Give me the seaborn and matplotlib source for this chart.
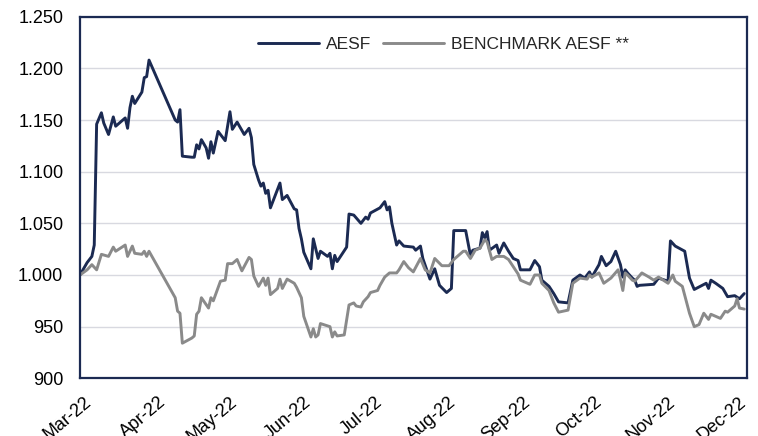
import matplotlib
matplotlib.use("Agg")
import matplotlib.pyplot as plt
import matplotlib.dates as mdates
import matplotlib.transforms as mtransforms
from matplotlib.ticker import FuncFormatter
import pandas as pd
import seaborn as sns

# values (base 1.000 = 1 Mar 2022)
aesf_dates = [
    "2022-03-01", "2022-03-04", "2022-03-06", "2022-03-07", "2022-03-08", "2022-03-10",
    "2022-03-11", "2022-03-13", "2022-03-15", "2022-03-16", "2022-03-20", "2022-03-21",
    "2022-03-22", "2022-03-23", "2022-03-24", "2022-03-27", "2022-03-28", "2022-03-29",
    "2022-03-30", "2022-04-10", "2022-04-11", "2022-04-12", "2022-04-13", "2022-04-17",
    "2022-04-18", "2022-04-19", "2022-04-20", "2022-04-21", "2022-04-23", "2022-04-24",
    "2022-04-25", "2022-04-26", "2022-04-28", "2022-05-01", "2022-05-03", "2022-05-04",
    "2022-05-06", "2022-05-09", "2022-05-11", "2022-05-12", "2022-05-13", "2022-05-15",
    "2022-05-16", "2022-05-17", "2022-05-18", "2022-05-19", "2022-05-20", "2022-05-24",
    "2022-05-25", "2022-05-27", "2022-05-30", "2022-05-31", "2022-06-01", "2022-06-02",
    "2022-06-03", "2022-06-06", "2022-06-07", "2022-06-09", "2022-06-10", "2022-06-13",
    "2022-06-14", "2022-06-15", "2022-06-16", "2022-06-17", "2022-06-21", "2022-06-22",
    "2022-06-24", "2022-06-27", "2022-06-29", "2022-06-30", "2022-07-01", "2022-07-05",
    "2022-07-07", "2022-07-08", "2022-07-09", "2022-07-10", "2022-07-12", "2022-07-13",
    "2022-07-15", "2022-07-19", "2022-07-20", "2022-07-22", "2022-07-23", "2022-07-26",
    "2022-07-28", "2022-07-30", "2022-08-02", "2022-08-04", "2022-08-05", "2022-08-10",
    "2022-08-12", "2022-08-13", "2022-08-16", "2022-08-17", "2022-08-18", "2022-08-19",
    "2022-08-20", "2022-08-23", "2022-08-24", "2022-08-26", "2022-08-28", "2022-08-30",
    "2022-09-01", "2022-09-02", "2022-09-06", "2022-09-08", "2022-09-10", "2022-09-11",
    "2022-09-14", "2022-09-16", "2022-09-18", "2022-09-22", "2022-09-24", "2022-09-27",
    "2022-09-29", "2022-10-01", "2022-10-02", "2022-10-05", "2022-10-06", "2022-10-08",
    "2022-10-10", "2022-10-12", "2022-10-14", "2022-10-15", "2022-10-16", "2022-10-17",
    "2022-10-19", "2022-10-20", "2022-10-21", "2022-10-22", "2022-10-28", "2022-10-30",
    "2022-11-03", "2022-11-04", "2022-11-06", "2022-11-10", "2022-11-12", "2022-11-14",
    "2022-11-19", "2022-11-20", "2022-11-21", "2022-11-23", "2022-11-26", "2022-11-28",
    "2022-12-01", "2022-12-03", "2022-12-05",
]
aesf_values = [
    1000, 1012, 1018, 1029, 1146, 1157,
    1147, 1136, 1153, 1144, 1152, 1142,
    1162, 1173, 1166, 1177, 1191, 1192,
    1208, 1150, 1148, 1160, 1115, 1114,
    1114, 1126, 1122, 1131, 1123, 1113,
    1129, 1118, 1139, 1130, 1158, 1141,
    1148, 1136, 1142, 1133, 1107, 1092,
    1086, 1089, 1079, 1082, 1065, 1089,
    1073, 1077, 1064, 1063, 1045, 1035,
    1022, 1006, 1035, 1016, 1023, 1018,
    1021, 1006, 1019, 1013, 1027, 1059,
    1058, 1050, 1056, 1054, 1060, 1065,
    1071, 1063, 1066, 1050, 1029, 1033,
    1028, 1027, 1024, 1028, 1016, 996,
    1006, 990, 983, 987, 1043, 1043,
    1019, 1024, 1026, 1041, 1036, 1042,
    1024, 1029, 1021, 1031, 1023, 1016,
    1014, 1005, 1005, 1014, 1008, 995,
    989, 982, 974, 973, 995, 1000,
    997, 1003, 998, 1010, 1018, 1009,
    1013, 1023, 1010, 998, 1005, 1002,
    997, 995, 989, 990, 991, 997,
    994, 1033, 1028, 1023, 997, 986,
    992, 987, 995, 992, 987, 979,
    980, 977, 982,
]

bench_dates = [
    "2022-03-01", "2022-03-04", "2022-03-06", "2022-03-08", "2022-03-10", "2022-03-13",
    "2022-03-15", "2022-03-16", "2022-03-20", "2022-03-21", "2022-03-23", "2022-03-24",
    "2022-03-27", "2022-03-28", "2022-03-29", "2022-03-30", "2022-04-10", "2022-04-11",
    "2022-04-12", "2022-04-13", "2022-04-17", "2022-04-18", "2022-04-19", "2022-04-20",
    "2022-04-21", "2022-04-24", "2022-04-25", "2022-04-26", "2022-04-29", "2022-05-01",
    "2022-05-02", "2022-05-04", "2022-05-06", "2022-05-08", "2022-05-11", "2022-05-12",
    "2022-05-13", "2022-05-15", "2022-05-17", "2022-05-18", "2022-05-19", "2022-05-20",
    "2022-05-23", "2022-05-24", "2022-05-25", "2022-05-27", "2022-05-30", "2022-05-31",
    "2022-06-02", "2022-06-03", "2022-06-06", "2022-06-07", "2022-06-08", "2022-06-09",
    "2022-06-10", "2022-06-14", "2022-06-15", "2022-06-16", "2022-06-17", "2022-06-20",
    "2022-06-22", "2022-06-24", "2022-06-25", "2022-06-27", "2022-06-28", "2022-06-30",
    "2022-07-01", "2022-07-04", "2022-07-05", "2022-07-07", "2022-07-09", "2022-07-12",
    "2022-07-13", "2022-07-15", "2022-07-17", "2022-07-19", "2022-07-22", "2022-07-24",
    "2022-07-26", "2022-07-28", "2022-07-31", "2022-08-03", "2022-08-05", "2022-08-09",
    "2022-08-10", "2022-08-12", "2022-08-14", "2022-08-16", "2022-08-18", "2022-08-19",
    "2022-08-21", "2022-08-23", "2022-08-26", "2022-08-28", "2022-08-30", "2022-09-01",
    "2022-09-02", "2022-09-06", "2022-09-08", "2022-09-10", "2022-09-11", "2022-09-14",
    "2022-09-16", "2022-09-18", "2022-09-22", "2022-09-24", "2022-09-27", "2022-09-30",
    "2022-10-01", "2022-10-02", "2022-10-05", "2022-10-07", "2022-10-10", "2022-10-13",
    "2022-10-14", "2022-10-15", "2022-10-16", "2022-10-17", "2022-10-19", "2022-10-20",
    "2022-10-23", "2022-10-26", "2022-10-28", "2022-10-30", "2022-11-03", "2022-11-05",
    "2022-11-06", "2022-11-09", "2022-11-12", "2022-11-14", "2022-11-16", "2022-11-18",
    "2022-11-20", "2022-11-21", "2022-11-25", "2022-11-27", "2022-11-28", "2022-12-01",
    "2022-12-02", "2022-12-03", "2022-12-05",
]
bench_values = [
    1000, 1005, 1010, 1005, 1020, 1018,
    1027, 1023, 1029, 1018, 1028, 1021,
    1020, 1023, 1018, 1023, 978, 965,
    963, 934, 939, 941, 962, 965,
    978, 968, 978, 975, 994, 995,
    1011, 1011, 1015, 1004, 1017, 1015,
    999, 989, 997, 990, 997, 981,
    987, 996, 987, 996, 992, 988,
    978, 960, 940, 948, 940, 942,
    953, 950, 940, 945, 941, 942,
    971, 973, 970, 969, 974, 979,
    983, 985, 990, 998, 1002, 1002,
    1005, 1013, 1007, 1003, 1016, 1005,
    1002, 1016, 1009, 1009, 1015, 1023,
    1023, 1016, 1024, 1026, 1034, 1032,
    1015, 1018, 1018, 1015, 1008, 1001,
    995, 991, 1000, 1000, 992, 985,
    973, 964, 966, 992, 997, 996,
    1000, 998, 1002, 992, 997, 1005,
    996, 985, 1002, 1000, 995, 994,
    1002, 998, 995, 998, 992, 1000,
    994, 989, 963, 950, 952, 963,
    957, 962, 958, 965, 964, 970,
    977, 968, 967,
]

series_names = ["AESF", "BENCHMARK AESF **"]
series_colors = ["#1B2A52", "#8A8A8A"]
y_ticks = [900, 950, 1000, 1050, 1100, 1150, 1200, 1250]

df = pd.concat([
    pd.DataFrame({"date": pd.to_datetime(aesf_dates), "value": aesf_values, "series": series_names[0]}),
    pd.DataFrame({"date": pd.to_datetime(bench_dates), "value": bench_values, "series": series_names[1]}),
])

sns.set_theme(style="white")
plt.rcParams["font.family"] = ["Liberation Sans", "DejaVu Sans"]

fig = plt.figure(figsize=(7.58, 4.36), dpi=100)
ax = fig.add_axes([0.1055, 0.1323, 0.8795, 0.8294])

sns.lineplot(data=df, x="date", y="value", hue="series", hue_order=series_names,
             palette=series_colors, linewidth=2.1, ax=ax, legend=False)

ax.set_ylim(y_ticks[0], y_ticks[-1])
ax.set_yticks(y_ticks)
ax.yaxis.set_major_formatter(FuncFormatter(lambda v, p: f"{v:,.0f}".replace(",", ".")))
ax.yaxis.grid(True, color="#D8D9E0", linewidth=1.0)
ax.set_axisbelow(True)

ax.set_xlim(pd.Timestamp("2022-03-01"), pd.Timestamp("2022-12-06"))
ax.xaxis.set_major_locator(mdates.MonthLocator())
ax.xaxis.set_major_formatter(mdates.DateFormatter("%b-%y"))
ax.set_xlabel("")
ax.set_ylabel("")

ax.tick_params(axis="y", length=0, pad=12, labelsize=13, labelcolor="black")
ax.tick_params(axis="x", length=0, pad=11, labelsize=13, labelcolor="black")
shift = mtransforms.ScaledTranslation(3 / 72, 0, fig.dpi_scale_trans)
for lbl in ax.get_xticklabels():
    lbl.set_rotation(40)
    lbl.set_ha("right")
    lbl.set_va("top")
    lbl.set_rotation_mode("anchor")
    lbl.set_transform(lbl.get_transform() + shift)

for sp in ax.spines.values():
    sp.set_color("#1B2A52")
    sp.set_linewidth(1.6)

handles = [plt.Line2D([], [], color=c, linewidth=2.1) for c in series_colors]
ax.legend(handles, series_names, loc="center", bbox_to_anchor=(0.545, 0.922), ncol=2,
          frameon=False, fontsize=12.5, handlelength=3.5, handletextpad=0.4,
          columnspacing=0.7)

fig.savefig("out.png", dpi=100)
